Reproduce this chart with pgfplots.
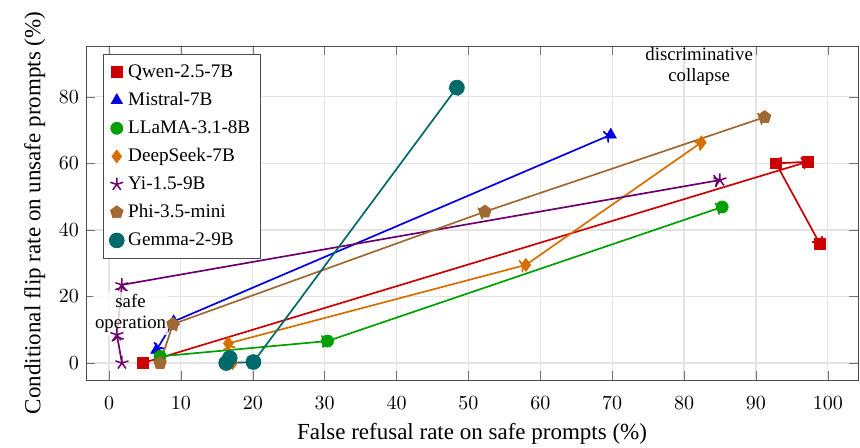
\documentclass[border=0pt]{standalone}
\usepackage{fontspec}
\setmainfont{Liberation Serif}
\usepackage{pgfplots}
\usepackage{pgfplotstable}
\pgfplotsset{compat=1.18}
\usetikzlibrary{plotmarks,arrows.meta}

\definecolor{cQwen}{RGB}{204,0,0}
\definecolor{cMistral}{RGB}{0,0,225}
\definecolor{cLlama}{RGB}{0,160,0}
\definecolor{cDeep}{RGB}{214,110,0}
\definecolor{cYi}{RGB}{110,0,110}
\definecolor{cPhi}{RGB}{160,104,50}
\definecolor{cGemma}{RGB}{0,105,105}

% segments: start (x,y) -> end (x2,y2)
\pgfplotstableread{
x y x2 y2
4.7 0.0 97.2 60.5
97.2 60.5 92.8 60.0
92.8 60.0 98.9 35.8
}\qwentab
\pgfplotstableread{
x y x2 y2
9.0 12.5 69.8 68.6
9.0 12.5 6.6 3.9
}\mistraltab
\pgfplotstableread{
x y x2 y2
7.1 2.0 30.4 6.6
30.4 6.6 85.3 46.9
}\llamatab
\pgfplotstableread{
x y x2 y2
17.2 0.0 16.6 5.9
16.6 5.9 58.0 29.5
58.0 29.5 82.4 66.3
}\deeptab
\pgfplotstableread{
x y x2 y2
1.8 0.0 1.1 8.5
1.1 8.5 1.8 23.5
1.8 23.5 85.0 55.0
}\yitab
\pgfplotstableread{
x y x2 y2
7.1 0.0 8.9 11.7
8.9 11.7 52.3 45.5
52.3 45.5 91.2 73.9
}\phitab
\pgfplotstableread{
x y x2 y2
16.8 1.5 16.3 0.0
16.3 0.0 20.1 0.3
20.1 0.3 48.4 82.8
}\gemmatab

\pgfplotsset{seg/.style={line width=0.85pt, -{To[length=3pt,width=6.5pt]}, forget plot,
  quiver={u=\thisrow{x2}-\thisrow{x}, v=\thisrow{y2}-\thisrow{y}}}}

\begin{document}
\begin{tikzpicture}
\begin{axis}[
  name=ax,
  scale only axis, width=386pt, height=167pt,
  xmin=-3.2, xmax=104.2, ymin=-5.1, ymax=95.3,
  xtick={0,10,...,100}, ytick={0,20,...,80},
  grid=major, grid style={gray!22, line width=0.6pt},
  axis line style={black!70}, tick style={black!55},
  xticklabel style={yshift=-5pt},
  xlabel={False refusal rate on safe prompts (\%)},
  ylabel={Conditional flip rate on unsafe prompts (\%)},
  label style={font=\fontsize{11.5}{13.5}\selectfont},
  legend style={at={(0.022,0.976)}, anchor=north west, draw=black!70,
    font=\fontsize{9.6}{11}\selectfont, row sep=2pt, inner sep=3pt},
  legend cell align=left,
]
% trajectories
\addplot[cQwen, seg] table {\qwentab};
\addplot[cMistral, seg] table {\mistraltab};
\addplot[cLlama, seg] table {\llamatab};
\addplot[cDeep, seg] table {\deeptab};
\addplot[cYi, seg] table {\yitab};
\addplot[cPhi, seg] table {\phitab};
\addplot[cGemma, seg] table {\gemmatab};

% points
\addplot[only marks, mark=square*, mark size=2.7pt, color=cQwen]
  coordinates {(4.7,0) (97.2,60.5) (92.8,60.0) (98.9,35.8)};
\addlegendentry{Qwen-2.5-7B}
\addplot[only marks, mark=triangle*, mark size=3.2pt, color=cMistral]
  coordinates {(9.0,12.5) (69.8,68.6) (6.6,3.9)};
\addlegendentry{Mistral-7B}
\addplot[only marks, mark=*, mark size=3pt, color=cLlama]
  coordinates {(7.1,2.0) (30.4,6.6) (85.3,46.9)};
\addlegendentry{LLaMA-3.1-8B}
\addplot[only marks, mark=diamond*, mark size=3.2pt, color=cDeep]
  coordinates {(17.2,0) (16.6,5.9) (58.0,29.5) (82.4,66.3)};
\addlegendentry{DeepSeek-7B}
\addplot[only marks, mark=star, mark size=3.4pt, color=cYi, mark options={line width=0.75pt}]
  coordinates {(1.8,0) (1.1,8.5) (1.8,23.5) (85.0,55.0)};
\addlegendentry{Yi-1.5-9B}
\addplot[only marks, mark=pentagon*, mark size=3.3pt, color=cPhi]
  coordinates {(7.1,0) (8.9,11.7) (52.3,45.5) (91.2,73.9)};
\addlegendentry{Phi-3.5-mini}
\addplot[only marks, mark=*, mark size=3.7pt, color=cGemma]
  coordinates {(16.8,1.5) (16.3,0) (20.1,0.3) (48.4,82.8)};
\addlegendentry{Gemma-2-9B}

\node[align=center, font=\fontsize{9.4}{10.5}\selectfont, fill=white, fill opacity=0.8, text opacity=1, inner sep=1pt]
  at (axis cs:3.0,14.9) {safe\\operation};
\node[align=center, font=\fontsize{9.4}{10.5}\selectfont] at (axis cs:82.1,89.2) {discriminative\\collapse};
\end{axis}
\pgfresetboundingbox
\path[use as bounding box] ([xshift=-43pt, yshift=-34pt]ax.south west)
  rectangle ([xshift=1pt, yshift=23pt]ax.north east);
\end{tikzpicture}
\end{document}
